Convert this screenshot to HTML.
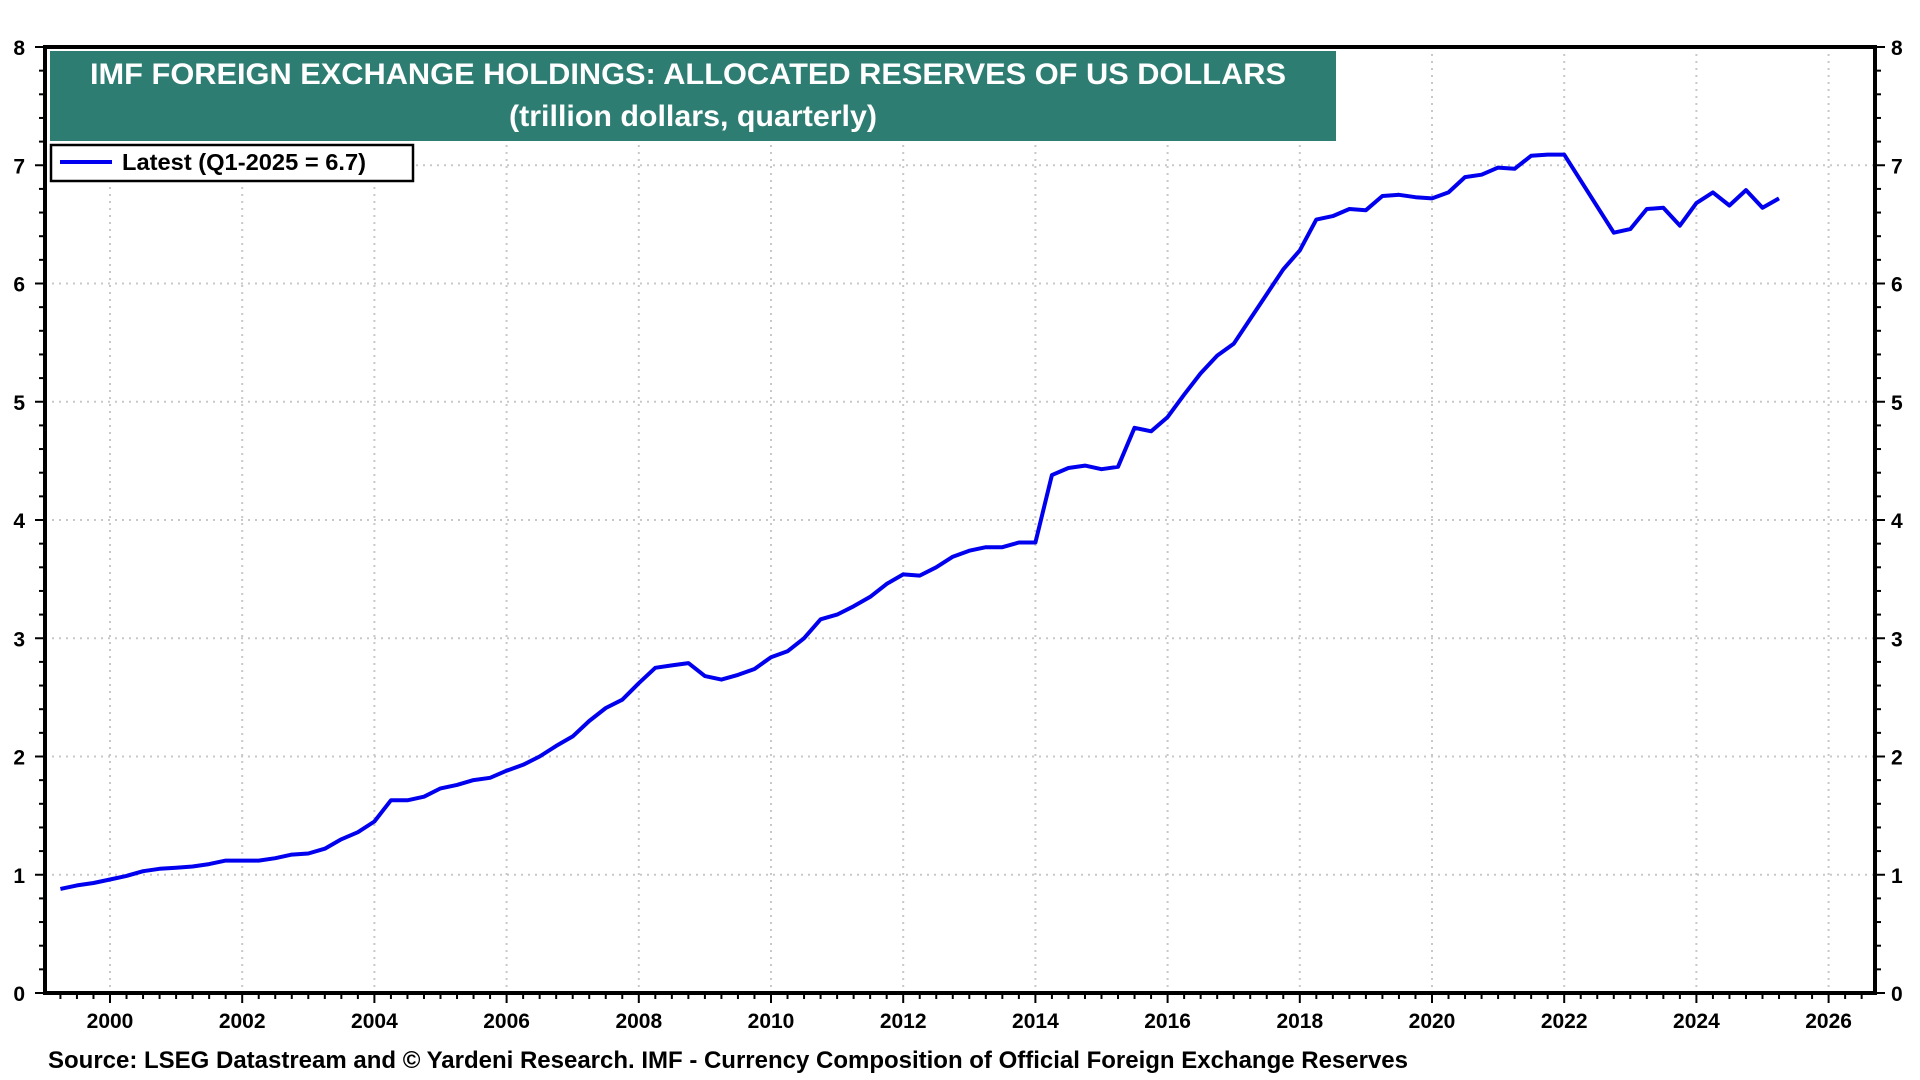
<!DOCTYPE html>
<html><head><meta charset="utf-8"><style>
html,body{margin:0;padding:0;background:#fff;}
svg{display:block;font-family:"Liberation Sans",Arial,sans-serif;}
</style></head><body>
<svg id="chart" width="1920" height="1080" viewBox="0 0 1920 1080" xmlns="http://www.w3.org/2000/svg">
<g id="grid"></g>
<g id="axes"></g>
<g id="series"></g>
<rect x="50" y="51" width="1286" height="90" fill="#2e7d72"/>
<text x="90" y="84" textLength="1196" lengthAdjust="spacingAndGlyphs" fill="#fff" font-size="30" font-weight="bold">IMF FOREIGN EXCHANGE HOLDINGS: ALLOCATED RESERVES OF US DOLLARS</text>
<text x="509" y="126" textLength="368" lengthAdjust="spacingAndGlyphs" fill="#fff" font-size="30" font-weight="bold">(trillion dollars, quarterly)</text>
<g>
<rect x="51" y="145" width="362" height="36" fill="#fff" stroke="#000" stroke-width="2.5"/>
<line x1="60" y1="162" x2="112" y2="162" stroke="#0000ee" stroke-width="4"/>
<text x="122" y="170" textLength="244" lengthAdjust="spacingAndGlyphs" font-size="23" font-weight="bold">Latest (Q1-2025 = 6.7)</text>
</g>
<text x="48" y="1068" textLength="1360" lengthAdjust="spacingAndGlyphs" font-size="24" font-weight="bold">Source: LSEG Datastream and © Yardeni Research. IMF - Currency Composition of Official Foreign Exchange Reserves</text>
</svg>
<script>
var startYear = 1999;
var values = [
0.88,0.91,0.93,0.96, 0.99,1.03,1.05,1.06, 1.07,1.09, 1.12,1.12,1.12,1.14,
1.17,1.18,1.22,1.30, 1.36,1.45,1.63,1.63, 1.66,1.73,1.76,1.80, 1.82,1.88,1.93,2.00,
2.09,2.17,2.30,2.41, 2.48,2.62,2.75,2.77, 2.79,2.68,2.65,2.69, 2.74,2.84,2.89,3.00,
3.16,3.20,3.27,3.35, 3.46,3.54,3.53,3.60, 3.69,3.74,3.77,3.77, 3.81,3.81,4.38,4.44,
4.46,4.43,4.45,4.78, 4.75,4.87,5.06,5.24, 5.39,5.49,5.70,5.91, 6.12,6.28,6.54,6.57,
6.63,6.62,6.74,6.75, 6.73,6.72,6.77,6.90, 6.92,6.98,6.97,7.08, 7.09,7.09,6.87,6.65,
6.43,6.46,6.63,6.64, 6.49,6.68,6.77,6.66, 6.79,6.64,6.72
];
var xTickLabels = ["2000","2002","2004","2006","2008","2010","2012","2014","2016","2018","2020","2022","2024","2026"];
var yTickLabels = ["0","1","2","3","4","5","6","7","8"];
var NS="http://www.w3.org/2000/svg";
var L=45,R=1875,T=47,B=993;
function X(yr){return 110+(yr-2000)*66.1;}
function Y(v){return B-(v/8)*(B-T);}
function mk(tag,attrs,parent){var e=document.createElementNS(NS,tag);for(var k in attrs)e.setAttribute(k,attrs[k]);parent.appendChild(e);return e;}
var grid=document.getElementById('grid'),axes=document.getElementById('axes'),series=document.getElementById('series');
xTickLabels.forEach(function(lab){
  var x=X(+lab);
  var g=mk('line',{x1:x,y1:T,x2:x,y2:B,stroke:'#c8c8c8','stroke-width':2,'stroke-dasharray':'2,5'},grid);
  
  
  var t=mk('text',{x:x,y:B+35,'text-anchor':'middle','font-size':21,'font-weight':'bold'},axes);
  t.textContent=lab;
  
  
});
yTickLabels.forEach(function(lab){
  var y=Y(+lab);
  if(+lab>0&&+lab<8){var g=mk('line',{x1:L,y1:y,x2:R,y2:y,stroke:'#c8c8c8','stroke-width':2,'stroke-dasharray':'2,5'},grid);
  
  }
  var t=mk('text',{x:L-20,y:y+8,'text-anchor':'end','font-size':21,'font-weight':'bold'},axes);
  t.textContent=lab;
  
  
  var t2=mk('text',{x:R+16,y:y+8,'text-anchor':'start','font-size':21,'font-weight':'bold'},axes);
  t2.textContent=lab;
  
  
});
for(var i=0;i<=40;i++){var v=i*0.2,y=Y(v),big=(i%5===0);
  mk('line',{x1:L-(big?10:6),y1:y,x2:L,y2:y,stroke:'#000','stroke-width':2},axes);
  mk('line',{x1:R,y1:y,x2:R+(big?10:6),y2:y,stroke:'#000','stroke-width':2},axes);}
for(var q=1999.25;q<=2026.75;q+=0.25){var x=X(q);if(x<L||x>R)continue;var big2=Math.abs(q-Math.round(q))<0.01&&Math.round(q)%2===0;
  mk('line',{x1:x,y1:B,x2:x,y2:B+(big2?10:6),stroke:'#000','stroke-width':2},axes);}
var frame=mk('rect',{x:L,y:T,width:R-L,height:B-T,fill:'none',stroke:'#000','stroke-width':4},axes);


var pts=values.map(function(v,i){return X(startYear+0.25*(i+1)).toFixed(1)+','+Y(v).toFixed(1);}).join(' ');
var line=mk('polyline',{points:pts,fill:'none',stroke:'#0000ee','stroke-width':4,'stroke-linejoin':'round'},series);


</script>
</body></html>
